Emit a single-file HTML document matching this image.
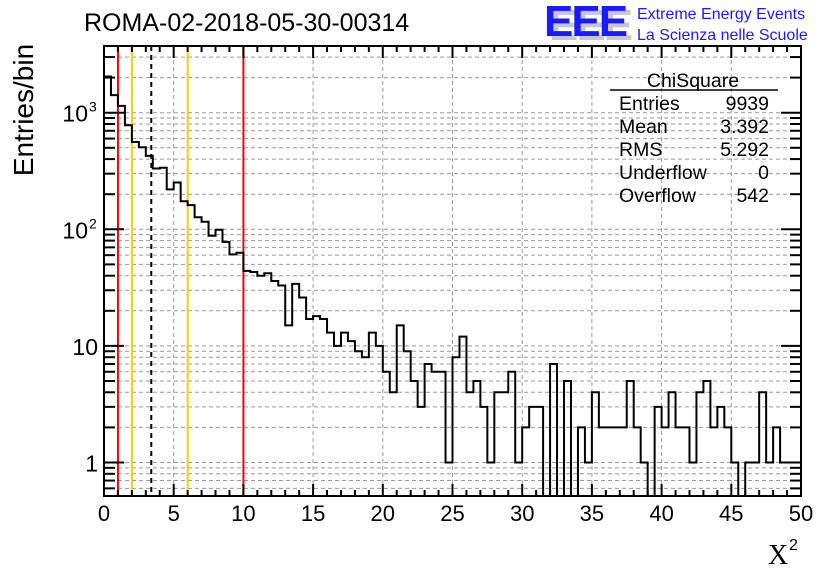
<!DOCTYPE html>
<html><head><meta charset="utf-8">
<style>
html,body{margin:0;padding:0;background:#fff;}
svg{display:block;font-family:"Liberation Sans",sans-serif;}
</style></head>
<body>
<svg id="chart" width="836" height="572" viewBox="0 0 836 572" xmlns="http://www.w3.org/2000/svg">
  <rect x="0" y="0" width="836" height="572" fill="#fff"/>
  <g id="grid"></g>
  <g id="marks"></g>
  <g id="hist"></g>
  <g id="axes"></g>
  <text x="84" y="31" font-size="25">ROMA-02-2018-05-30-00314</text>
  <g>
    <text x="549" y="40" font-size="44" font-weight="bold" fill="#c8c8c8" letter-spacing="-2">EEE</text>
    <text x="544" y="36" font-size="44" font-weight="bold" fill="#1a1aff" letter-spacing="-2">EEE</text>
    <text x="637" y="19" font-size="16" fill="#1a1aff">Extreme Energy Events</text>
    <text x="637" y="40" font-size="16" fill="#1a1aff">La Scienza nelle Scuole</text>
  </g>
  <g font-size="19.5">
    <text x="693" y="87" text-anchor="middle">ChiSquare</text>
    <line x1="610" y1="90" x2="778" y2="90" stroke="#000" stroke-width="1.5"/>
    <text x="619" y="110">Entries</text><text x="769" y="110" text-anchor="end">9939</text>
    <text x="619" y="133">Mean</text><text x="769" y="133" text-anchor="end">3.392</text>
    <text x="619" y="156">RMS</text><text x="769" y="156" text-anchor="end">5.292</text>
    <text x="619" y="179">Underflow</text><text x="769" y="179" text-anchor="end">0</text>
    <text x="619" y="202">Overflow</text><text x="769" y="202" text-anchor="end">542</text>
  </g>
  <text transform="translate(33,110) rotate(-90)" text-anchor="middle" font-size="28">Entries/bin</text>
  <g>
    <text x="768" y="564" font-size="28" font-family="Liberation Serif, serif">X</text>
    <text x="789" y="550" font-size="16">2</text>
  </g>
</svg>
<script>
const binEdgesStart = 0;
const binWidth = 0.5;
const counts = [2046,1414,1143,781,561,506,426,332,337,220,252,174,161,127,116,88,99,78,61,63,
44,43,40,42,36,33,15,34,26,17,18,17,13,10,13,11,9,8,13,10,
6,4,15,9,5,3,7,6,6,1,8,12,4,5,3,1,4,4,6,1,
2,3,3,0,7,0,5,0,2,1,4,2,2,2,2,5,2,1,0,3,
2,4,2,2,1,4,5,2,3,2,1,0,1,1,4,1,2,1,1,1];
const xTicks = [0,5,10,15,20,25,30,35,40,45,50];
const yTickBase = ["1","10","10","10"];
const yTickExp = ["","","2","3"];
const refLines = [{x:1,c:"#ff0000",d:""},{x:2,c:"#ffcc00",d:""},{x:6,c:"#ffcc00",d:""},{x:10,c:"#ff0000",d:""},{x:3.392,c:"#000",d:"5,4"}];

const L=104,R=801,T=46,B=496, xmin=0,xmax=50;
const y1px=462.5, dec=116.6;
const NS="http://www.w3.org/2000/svg";
const X=v=>L+(v-xmin)/(xmax-xmin)*(R-L);
const Y=v=>v<=0?B:Math.max(T,Math.min(B,y1px-Math.log10(v)*dec));
function mk(tag,attrs,parent){const e=document.createElementNS(NS,tag);for(const k in attrs)e.setAttribute(k,attrs[k]);parent.appendChild(e);return e;}
const grid=document.getElementById('grid'),axes=document.getElementById('axes'),hist=document.getElementById('hist'),marks=document.getElementById('marks');
xTicks.forEach(t=>{if(t>xmin&&t<xmax){const l=mk('line',{x1:X(t),x2:X(t),y1:T,y2:B,stroke:'#999','stroke-dasharray':'4,3','stroke-width':1},grid);

}});
for(let d=-1;d<=3;d++){for(let m=1;m<=9;m++){const v=m*Math.pow(10,d);const y=y1px-Math.log10(v)*dec;if(y<T||y>B)continue;
const l=mk('line',{x1:L,x2:R,y1:y,y2:y,stroke:'#999','stroke-dasharray':'4,3','stroke-width':1},grid);


const len=m===1?20:11;
const tk=mk('line',{x1:L,x2:L+len,y1:y,y2:y,stroke:'#000','stroke-width':2},axes);


const tk2=mk('line',{x1:R,x2:R-len,y1:y,y2:y,stroke:'#000','stroke-width':2},axes);


}}
refLines.forEach(r=>{const l=mk('line',{x1:X(r.x),x2:X(r.x),y1:T,y2:B,stroke:r.c,'stroke-width':2},marks);if(r.d)l.setAttribute('stroke-dasharray',r.d);

});
let d='';
counts.forEach((c,i)=>{const x0=X(binEdgesStart+i*binWidth),x1=X(binEdgesStart+(i+1)*binWidth),y=Y(c);
d+=(i===0?'M'+x0+','+y:'L'+x0+','+y)+'L'+x1+','+y;});
const p=mk('path',{d:d,fill:'none',stroke:'#000','stroke-width':2,'stroke-linejoin':'miter'},hist);


for(let v=0;v<=50;v+=1){const len=v%5===0?12:6;
const t=mk('line',{x1:X(v),x2:X(v),y1:B,y2:B-len,stroke:'#000','stroke-width':2},axes);


const t2=mk('line',{x1:X(v),x2:X(v),y1:T,y2:T+len,stroke:'#000','stroke-width':2},axes);

}
xTicks.forEach(t=>{const tx=mk('text',{x:X(t),y:521,'text-anchor':'middle','font-size':22},axes);tx.textContent=t;

});
yTickBase.forEach((s,i)=>{const y=y1px-i*dec;const e=yTickExp[i];
const tx=mk('text',{x:e?88:98,y:y+9,'text-anchor':'end','font-size':23},axes);tx.textContent=s;


if(e){const ex=mk('text',{x:89,y:y-1,'font-size':14},axes);ex.textContent=e;

}});
const fr=mk('rect',{x:L,y:T,width:R-L,height:B-T,fill:'none',stroke:'#000','stroke-width':2},axes);


</script>
</body></html>
